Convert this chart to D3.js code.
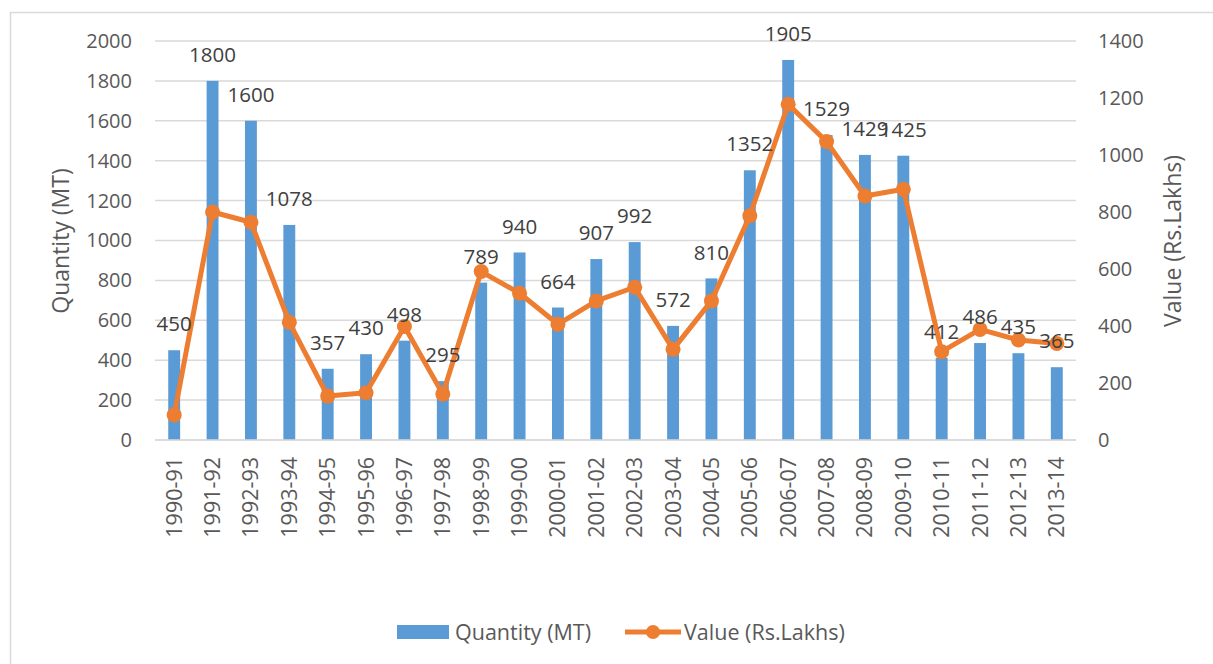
<!DOCTYPE html>
<html>
<head>
<meta charset="utf-8">
<script src="https://cdn.jsdelivr.net/npm/d3@7"></script>
<style>
  body { margin: 0; background: #fff; }
  text { font-family: "Open Sans", sans-serif; fill: #595959; }
</style>
</head>
<body>
<div id="chart"></div>
<script>
// DATA
const years = ['1990-91', '1991-92', '1992-93', '1993-94', '1994-95', '1995-96', '1996-97', '1997-98',
  '1998-99', '1999-00', '2000-01', '2001-02', '2002-03', '2003-04', '2004-05', '2005-06', '2006-07',
  '2007-08', '2008-09', '2009-10', '2010-11', '2011-12', '2012-13', '2013-14'];
const quantity = [450, 1800, 1600, 1078, 357, 430, 498, 295, 789, 940, 664, 907, 992, 572, 810, 1352,
  1905, 1529, 1429, 1425, 412, 486, 435, 365];
const value = [88, 800, 764, 413, 154, 166, 398, 161, 591, 515, 406, 488, 536, 318, 488, 787, 1178,
  1047, 856, 880, 310, 388, 351, 339];
const leftTicks = [0, 200, 400, 600, 800, 1000, 1200, 1400, 1600, 1800, 2000];
const rightTicks = [0, 200, 400, 600, 800, 1000, 1200, 1400];

// DIMENSIONS
const width = 1213;
const height = 664;
const plotLeft = 155, plotRight = 1076, plotTop = 41, plotBottom = 440;
const blue = '#5B9BD5';
const orange = '#ED7D31';

const svg = d3.select('#chart').append('svg')
  .attr('width', width)
  .attr('height', height);

// chart border
svg.append('rect')
  .attr('x', 10.5).attr('y', 12.5)
  .attr('width', 1220).attr('height', 670)
  .style('fill', 'none')
  .style('stroke', '#d9d9d9')
  .style('stroke-width', 1.5);

// SCALES
const x = d3.scaleBand().domain(years).range([plotLeft, plotRight])
  .paddingInner(0.69).paddingOuter(0.345);
const yLeft = d3.scaleLinear().domain([0, 2000]).range([plotBottom, plotTop]);
const yRight = d3.scaleLinear().domain([0, 1400]).range([plotBottom, plotTop]);
const cx = d => x(d) + x.bandwidth() / 2;

// gridlines
svg.append('g')
  .selectAll('line')
  .data(leftTicks)
  .enter().append('line')
  .attr('x1', plotLeft).attr('x2', plotRight)
  .attr('y1', d => yLeft(d)).attr('y2', d => yLeft(d))
  .style('stroke', '#d9d9d9')
  .style('stroke-width', 1.5);

// left axis
const leftAxis = svg.append('g')
  .attr('transform', `translate(${plotLeft - 23}, 0)`)
  .call(d3.axisLeft(yLeft).tickValues(leftTicks).tickFormat(d3.format('d')).tickSize(0).tickPadding(0));
leftAxis.select('.domain').remove();
leftAxis.selectAll('text').style('font-size', '20px').style('fill', '#595959')
  .style('font-family', '"Open Sans", sans-serif');

// right axis
const rightAxis = svg.append('g')
  .attr('transform', `translate(${plotRight + 22}, 0)`)
  .call(d3.axisRight(yRight).tickValues(rightTicks).tickFormat(d3.format('d')).tickSize(0).tickPadding(0));
rightAxis.select('.domain').remove();
rightAxis.selectAll('text').style('font-size', '20px').style('fill', '#595959')
  .style('font-family', '"Open Sans", sans-serif');

// x axis labels (rotated)
const xAxis = svg.append('g')
  .attr('transform', `translate(0, ${plotBottom})`)
  .call(d3.axisBottom(x).tickSize(0).tickPadding(0));
xAxis.select('.domain').remove();
xAxis.selectAll('text')
  .style('font-size', '21.5px').style('fill', '#595959')
  .style('font-family', '"Open Sans", sans-serif')
  .attr('text-anchor', 'end')
  .attr('dy', '0.35em')
  .attr('transform', 'translate(0, 17) rotate(-90)');

// axis titles
svg.append('text')
  .attr('transform', `translate(69, 241) rotate(-90)`)
  .attr('text-anchor', 'middle')
  .style('font-size', '23px')
  .text('Quantity (MT)');
svg.append('text')
  .attr('transform', `translate(1181, 241) rotate(-90)`)
  .attr('text-anchor', 'middle')
  .style('font-size', '23px')
  .text('Value (Rs.Lakhs)');

// BARS
svg.append('g')
  .selectAll('rect')
  .data(years)
  .enter().append('rect')
  .attr('x', d => x(d))
  .attr('width', x.bandwidth())
  .attr('y', (d, i) => yLeft(quantity[i]))
  .attr('height', (d, i) => plotBottom - yLeft(quantity[i]))
  .style('fill', blue);

// baseline
svg.append('line')
  .attr('x1', plotLeft).attr('x2', plotRight)
  .attr('y1', plotBottom).attr('y2', plotBottom)
  .style('stroke', '#d9d9d9')
  .style('stroke-width', 1.5);

// LINE
const line = d3.line()
  .x((d, i) => cx(years[i]))
  .y(d => yRight(d));
svg.append('path')
  .datum(value)
  .attr('d', line)
  .style('fill', 'none')
  .style('stroke', orange)
  .style('stroke-width', 5)
  .style('stroke-linejoin', 'round');
svg.append('g')
  .selectAll('circle')
  .data(value)
  .enter().append('circle')
  .attr('cx', (d, i) => cx(years[i]))
  .attr('cy', d => yRight(d))
  .attr('r', 7.5)
  .style('fill', orange);

// DATA LABELS (quantity)
svg.append('g')
  .selectAll('text')
  .data(quantity)
  .enter().append('text')
  .attr('x', (d, i) => cx(years[i]))
  .attr('y', d => yLeft(d) - 26)
  .attr('dy', '0.35em')
  .attr('text-anchor', 'middle')
  .style('font-size', '20.5px')
  .style('fill', '#404040')
  .text(d => d);

// LEGEND
const legend = svg.append('g');
legend.append('rect')
  .attr('x', 397).attr('y', 625)
  .attr('width', 52).attr('height', 14)
  .style('fill', blue);
legend.append('text')
  .attr('x', 455).attr('y', 632)
  .attr('dy', '0.35em')
  .style('font-size', '21.5px')
  .text('Quantity (MT)');
legend.append('line')
  .attr('x1', 625).attr('x2', 681)
  .attr('y1', 632).attr('y2', 632)
  .style('stroke', orange)
  .style('stroke-width', 5);
legend.append('circle')
  .attr('cx', 653).attr('cy', 632).attr('r', 7)
  .style('fill', orange);
legend.append('text')
  .attr('x', 684).attr('y', 632)
  .attr('dy', '0.35em')
  .style('font-size', '21.5px')
  .text('Value (Rs.Lakhs)');
</script>
</body>
</html>
